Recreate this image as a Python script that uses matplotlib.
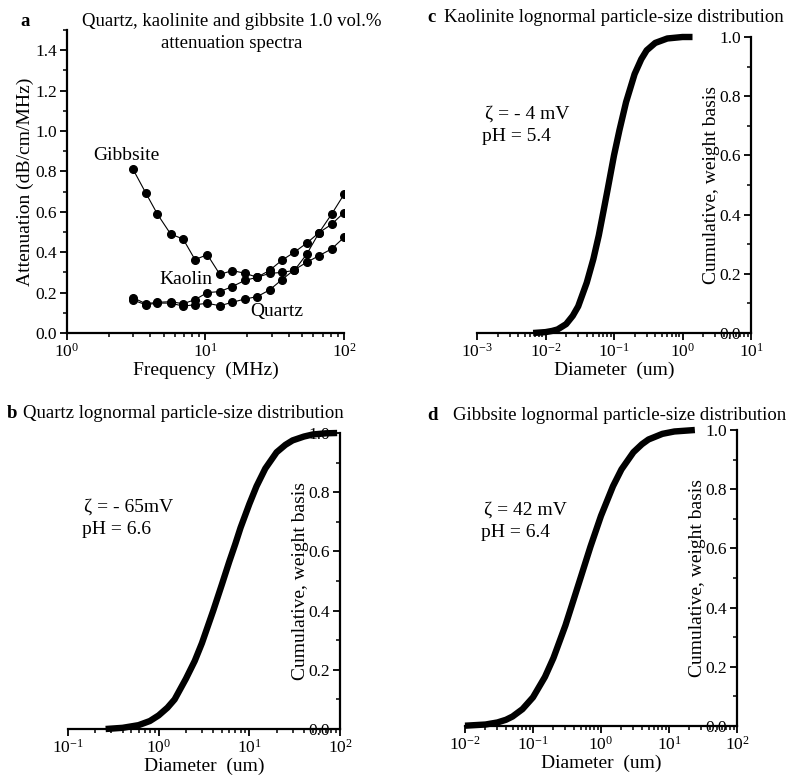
import matplotlib
matplotlib.use("Agg")
import matplotlib.pyplot as plt
from matplotlib.ticker import LogLocator, MultipleLocator, NullFormatter

plt.rcParams['font.family'] = ['Liberation Serif', 'DejaVu Serif']
plt.rcParams['mathtext.fontset'] = 'stix'

# panel a: attenuation spectra (1.0 vol.%)
freq = [3.0, 3.7, 4.5, 5.6, 6.9, 8.4, 10.3, 12.7, 15.6, 19.2, 23.6, 29.0,
        35.6, 43.8, 53.8, 66.1, 81.3, 100.0]
gibbsite_att = [0.81, 0.694, 0.588, 0.49, 0.465, 0.363, 0.388, 0.29, 0.309, 0.296,
                0.276, 0.295, 0.30, 0.31, 0.39, 0.497, 0.538, 0.596]
kaolin_att = [0.175, 0.145, 0.152, 0.155, 0.145, 0.165, 0.20, 0.205, 0.23, 0.26,
              0.276, 0.31, 0.36, 0.40, 0.445, 0.497, 0.588, 0.686]
quartz_att = [0.163, 0.14, 0.148, 0.148, 0.133, 0.14, 0.147, 0.135, 0.152, 0.168,
              0.18, 0.213, 0.264, 0.313, 0.35, 0.383, 0.416, 0.473]

# panels b-d: cumulative particle-size distributions (weight basis)
quartz_d = [0.26, 0.4, 0.6, 0.8, 1.0, 1.25, 1.5, 2, 2.5, 3, 4, 5, 6, 7, 8, 10, 12, 15,
            20, 25, 30, 40, 50, 70, 93]
quartz_cum = [0.0, 0.004, 0.013, 0.027, 0.046, 0.072, 0.10, 0.17, 0.23, 0.29, 0.40,
              0.49, 0.565, 0.625, 0.68, 0.76, 0.82, 0.88, 0.935, 0.96, 0.975, 0.988,
              0.995, 0.999, 1.0]

kaol_d = [0.0066, 0.01, 0.0125, 0.015, 0.02, 0.025, 0.03, 0.04, 0.05, 0.06, 0.07, 0.08,
          0.1, 0.12, 0.15, 0.2, 0.25, 0.3, 0.4, 0.6, 1.0, 1.4]
kaol_cum = [0.0, 0.003, 0.007, 0.012, 0.03, 0.058, 0.09, 0.17, 0.25, 0.33, 0.41, 0.48,
            0.60, 0.685, 0.78, 0.875, 0.925, 0.955, 0.98, 0.995, 1.0, 1.0]

gibb_d = [0.01, 0.02, 0.03, 0.04, 0.05, 0.07, 0.1, 0.15, 0.2, 0.3, 0.4, 0.5, 0.7, 1.0,
          1.5, 2, 3, 4, 5, 8, 12, 24]
gibb_cum = [0.001, 0.005, 0.012, 0.021, 0.032, 0.057, 0.097, 0.166, 0.23, 0.34, 0.43,
            0.50, 0.606, 0.71, 0.81, 0.867, 0.925, 0.952, 0.968, 0.987, 0.995, 1.0]

W, H = 795, 778
fig = plt.figure(figsize=(W / 100, H / 100), dpi=100)

TICK_FS = 12.5
LABEL_FS = 14
TITLE_FS = 13.5


def box(left, top, right, bottom):
    return [left / W, 1 - bottom / H, (right - left) / W, (bottom - top) / H]


def style_log_x(ax):
    ax.xaxis.set_major_locator(LogLocator(base=10))
    ax.xaxis.set_minor_locator(LogLocator(base=10, subs=range(2, 10)))
    ax.xaxis.set_minor_formatter(NullFormatter())
    ax.tick_params(axis='both', which='major', labelsize=TICK_FS, length=5, width=1.3,
                   direction='out', pad=2)
    ax.tick_params(axis='both', which='minor', length=3, width=1.1, direction='out')
    for s in ax.spines.values():
        s.set_linewidth(1.6)


# ---- panel a ----
ax = fig.add_axes(box(67, 30, 344, 333))
ax.set_xscale('log')
ax.plot(freq, gibbsite_att, 'o-', color='black', ms=5.5, lw=0.8)
ax.plot(freq, kaolin_att, 'o-', color='black', ms=5.5, lw=0.8)
ax.plot(freq, quartz_att, 'o-', color='black', ms=5.5, lw=0.8)
ax.set_xlim(1, 100)
ax.set_ylim(0, 1.5)
ax.yaxis.set_major_locator(MultipleLocator(0.2))
ax.yaxis.set_minor_locator(MultipleLocator(0.1))
ax.yaxis.set_major_formatter(plt.FuncFormatter(lambda v, p: f'{v:.1f}'))
style_log_x(ax)
ax.spines['top'].set_visible(False)
ax.spines['right'].set_visible(False)
ax.set_xlabel('Frequency  (MHz)', fontsize=LABEL_FS, labelpad=1)
ax.set_ylabel('Attenuation (dB/cm/MHz)', fontsize=LABEL_FS, labelpad=1)
ax.text(2.67, 0.88, 'Gibbsite', fontsize=LABEL_FS, ha='center', va='center')
ax.text(7.2, 0.267, 'Kaolin', fontsize=LABEL_FS, ha='center', va='center')
ax.text(32.8, 0.104, 'Quartz', fontsize=LABEL_FS, ha='center', va='center')
fig.text(25 / W, 1 - 22 / H, 'a', fontsize=TITLE_FS, fontweight='bold', ha='center', va='center')
fig.text(232 / W, 1 - 22 / H, 'Quartz, kaolinite and gibbsite 1.0 vol.%', fontsize=TITLE_FS,
         ha='center', va='center')
fig.text(232 / W, 1 - 43 / H, 'attenuation spectra', fontsize=TITLE_FS, ha='center', va='center')


def psd_panel(rect, d, cum, xlim, zeta, ph, text_xy):
    ax = fig.add_axes(rect)
    ax.set_xscale('log')
    ax.plot(d, cum, '-', color='black', lw=4.6, solid_capstyle='butt',
            solid_joinstyle='round', clip_on=False)
    ax.set_xlim(*xlim)
    ax.set_ylim(0, 1.0)
    ax.yaxis.set_major_locator(MultipleLocator(0.2))
    ax.yaxis.set_minor_locator(MultipleLocator(0.1))
    ax.yaxis.set_major_formatter(plt.FuncFormatter(lambda v, p: f'{v:.1f}'))
    style_log_x(ax)
    ax.spines['top'].set_visible(False)
    ax.spines['right'].set_visible(False)
    ax.spines['left'].set_position(('axes', 1.0))
    ax.set_xlabel('Diameter  (um)', fontsize=LABEL_FS, labelpad=1)
    ax.set_ylabel('Cumulative, weight basis', fontsize=LABEL_FS, labelpad=0)
    ax.text(text_xy[0], text_xy[1], 'ζ = ' + zeta, transform=ax.transAxes,
            fontsize=LABEL_FS, ha='left', va='center')
    ax.text(text_xy[0] - 0.01, text_xy[1] - 0.075, 'pH = ' + ph, transform=ax.transAxes,
            fontsize=LABEL_FS, ha='left', va='center')
    return ax


# ---- panel b ----
psd_panel(box(68, 433, 340, 729), quartz_d, quartz_cum, (0.1, 100), '- 65mV', '6.6', (0.06, 0.75))
fig.text(12 / W, 1 - 413 / H, 'b', fontsize=TITLE_FS, fontweight='bold', ha='center', va='center')
fig.text(23 / W, 1 - 413 / H, 'Quartz lognormal particle-size distribution', fontsize=TITLE_FS,
         ha='left', va='center')

# ---- panel c ----
psd_panel(box(477, 37, 751, 333), kaol_d, kaol_cum, (0.001, 10), '- 4 mV', '5.4', (0.03, 0.74))
fig.text(431 / W, 1 - 17 / H, 'c', fontsize=TITLE_FS, fontweight='bold', ha='center', va='center')
fig.text(444 / W, 1 - 17 / H, 'Kaolinite lognormal particle-size distribution', fontsize=TITLE_FS,
         ha='left', va='center')

# ---- panel d ----
psd_panel(box(465, 430, 737, 726), gibb_d, gibb_cum, (0.01, 100), '42 mV', '6.4', (0.07, 0.73))
fig.text(433 / W, 1 - 415 / H, 'd', fontsize=TITLE_FS, fontweight='bold', ha='center', va='center')
fig.text(453 / W, 1 - 415 / H, 'Gibbsite lognormal particle-size distribution', fontsize=TITLE_FS,
         ha='left', va='center')

fig.savefig('out.png', dpi=100)
